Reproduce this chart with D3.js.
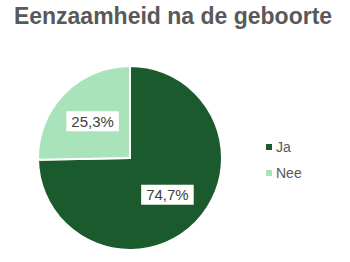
<!DOCTYPE html>
<html>
<head>
<meta charset="utf-8">
<script src="https://cdn.jsdelivr.net/npm/d3@7"></script>
<style>
  body { margin: 0; background: #fff; }
  .content { width: 350px; height: 262px; }
  text { font-family: "Liberation Sans", Arial, sans-serif; }
</style>
</head>
<body>
<div class="content"></div>
<script>
var categories = ['Ja', 'Nee'];
var values = [74.7, 25.3];
var labels = ['74,7%', '25,3%'];
var colors = ['#1b5a2d', '#a9e3b9'];

var svgWidth = 350, svgHeight = 262;
var svg = d3.select('.content')
  .append('svg')
  .attr('width', svgWidth)
  .attr('height', svgHeight);

svg.append('text')
  .attr('x', 173)
  .attr('y', 24)
  .attr('text-anchor', 'middle')
  .attr('font-size', '23px')
  .attr('font-weight', 'bold')
  .attr('fill', '#595959')
  .text('Eenzaamheid na de geboorte');

var cx = 130, cy = 158, radius = 92;
var data = categories.map(function(c, i) { return { name: c, value: values[i], label: labels[i], color: colors[i] }; });

var pie = d3.pie().sort(null).value(function(d) { return d.value; });
var arc = d3.arc().innerRadius(0).outerRadius(radius);
var labelArc = d3.arc().innerRadius(radius * 0.57).outerRadius(radius * 0.57);

var g = svg.append('g').attr('transform', 'translate(' + cx + ',' + cy + ')');

g.selectAll('.slice')
  .data(pie(data))
  .enter()
  .append('path')
  .attr('class', 'slice')
  .attr('d', arc)
  .attr('fill', function(d) { return d.data.color; })
  .attr('stroke', '#fff')
  .attr('stroke-width', 2);

var lab = g.selectAll('.lab')
  .data(pie(data))
  .enter()
  .append('g')
  .attr('class', 'lab')
  .attr('transform', function(d) { return 'translate(' + labelArc.centroid(d) + ')'; });

lab.append('rect')
  .attr('fill', '#fff');

var texts = lab.append('text')
  .attr('text-anchor', 'middle')
  .attr('dy', '0.36em')
  .attr('font-size', '15px')
  .attr('fill', '#404040')
  .text(function(d) { return d.data.label; });

texts.each(function() {
  var w = this.getComputedTextLength();
  d3.select(this.parentNode).select('rect')
    .attr('x', -w / 2 - 5).attr('y', -10)
    .attr('width', w + 10).attr('height', 20);
});

var legend = svg.append('g').attr('transform', 'translate(266,147)');
var item = legend.selectAll('.item')
  .data(data)
  .enter()
  .append('g')
  .attr('class', 'item')
  .attr('transform', function(d, i) { return 'translate(0,' + i * 26 + ')'; });

item.append('rect')
  .attr('x', 0).attr('y', -3)
  .attr('width', 6).attr('height', 6)
  .attr('fill', function(d) { return d.color; });

item.append('text')
  .attr('x', 10)
  .attr('dy', '0.35em')
  .attr('font-size', '14px')
  .attr('fill', '#595959')
  .text(function(d) { return d.name; });
</script>
</body>
</html>
